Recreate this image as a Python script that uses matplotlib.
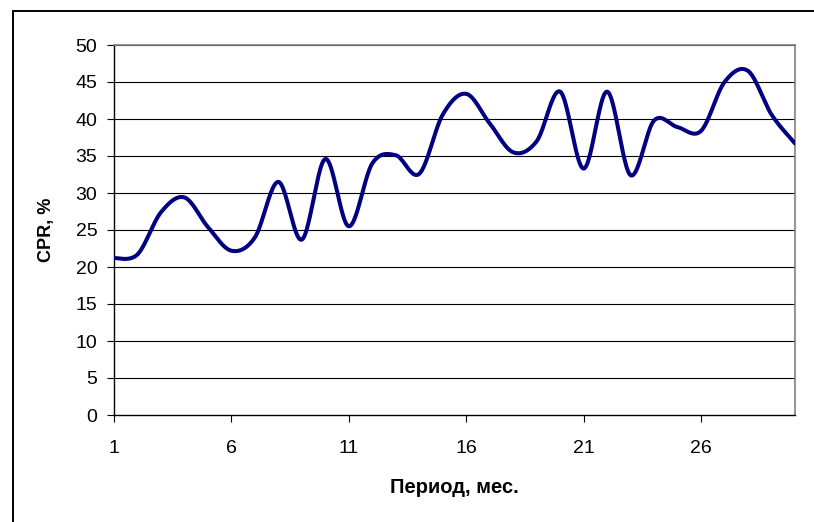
"""CPR по месяцам: сглаженная линия в стиле Excel."""
import matplotlib

matplotlib.use("Agg")
import matplotlib.pyplot as plt
import numpy as np
from matplotlib.patches import Rectangle

plt.rcParams["font.family"] = ["Liberation Sans", "DejaVu Sans"]

periods = list(range(1, 31))
cpr = [
    21.2, 21.7, 27.4, 29.4, 25.4, 22.2, 24.0, 31.5, 23.7, 34.6,
    25.5, 34.0, 35.1, 32.6, 40.6, 43.4, 39.4, 35.5, 37.0, 43.7,
    33.3, 43.7, 32.4, 39.8, 38.9, 38.4, 45.0, 46.5, 40.6, 36.7,
]
xticks = [1, 6, 11, 16, 21, 26]
yticks = list(range(0, 51, 5))


def smooth_curve(x, y, n=24):
    # кубические Безье с контрольными точками Catmull-Rom (как "сглаженная линия")
    x = np.asarray(x, float)
    y = np.asarray(y, float)
    px = np.concatenate([[x[0]], x, [x[-1]]])
    py = np.concatenate([[y[0]], y, [y[-1]]])
    xs, ys = [], []
    t = np.linspace(0, 1, n, endpoint=False)
    for i in range(1, len(px) - 2):
        p0 = np.array([px[i], py[i]])
        p3 = np.array([px[i + 1], py[i + 1]])
        c1 = p0 + (p3 - np.array([px[i - 1], py[i - 1]])) / 6.0
        c2 = p3 - (np.array([px[i + 2], py[i + 2]]) - p0) / 6.0
        b = ((1 - t) ** 3)[:, None] * p0 + (3 * (1 - t) ** 2 * t)[:, None] * c1 \
            + (3 * (1 - t) * t ** 2)[:, None] * c2 + (t ** 3)[:, None] * p3
        xs.append(b[:, 0])
        ys.append(b[:, 1])
    xs.append([x[-1]])
    ys.append([y[-1]])
    return np.concatenate(xs), np.concatenate(ys)


fig = plt.figure(figsize=(8.14, 5.22), dpi=100)
ax = fig.add_axes([114 / 814, 1 - 415 / 522, (795 - 114) / 814, (415 - 45) / 522])

for v in yticks[1:]:
    ax.axhline(v, color="black", lw=0.8, zorder=1)

sx, sy = smooth_curve(periods, cpr)
ax.plot(sx, sy, color="#000080", lw=2.9, solid_capstyle="round", zorder=3)

ax.set_xlim(periods[0], periods[-1])
ax.set_ylim(0, 50)
ax.set_xticks(xticks)
ax.set_yticks(yticks)
ax.tick_params(direction="out", length=5, width=0.8, labelsize=14, colors="black")
ax.tick_params(axis="x", pad=13)
ax.tick_params(axis="y", pad=7)

for side in ("top", "right"):
    ax.spines[side].set_color("#808080")
    ax.spines[side].set_linewidth(1.2)
for side in ("left", "bottom"):
    ax.spines[side].set_color("black")
    ax.spines[side].set_linewidth(1.0)

ax.set_xlabel("Период, мес.", fontsize=14.5, fontweight="bold", labelpad=15)
ax.set_ylabel("CPR, %", fontsize=13, fontweight="bold", labelpad=15)

# рамка области диаграммы
fig.patches.append(Rectangle((13 / 814, -0.1), 1.0, 1 - 11 / 522 + 0.1,
                             transform=fig.transFigure, fill=False,
                             edgecolor="black", lw=1.4))

fig.savefig("out.png", dpi=100)
